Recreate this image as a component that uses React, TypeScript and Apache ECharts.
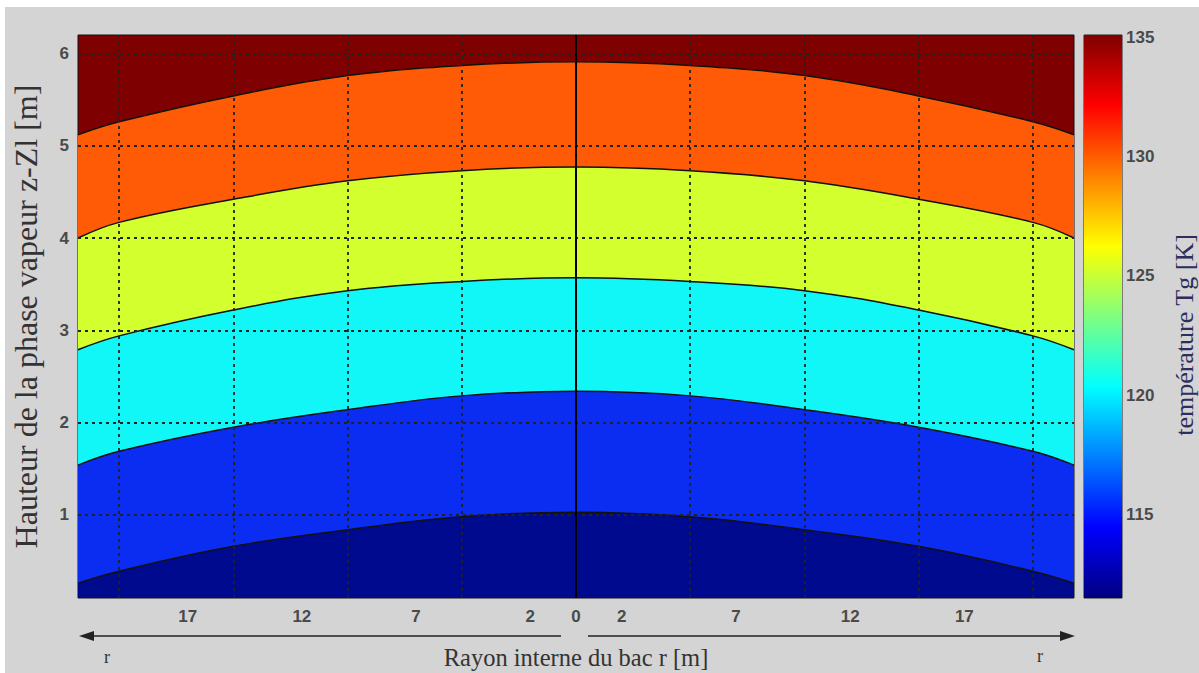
import React, { useEffect, useRef } from "react";
import * as echarts from "echarts";

// radial positions (m) where contour heights were read
const radii = [-21.8, -20, -15, -10, -5, 0, 5, 10, 15, 20, 21.8];
// contour boundary heights z-Zl (m), bottom to top
const boundary1 = [0.26, 0.39, 0.66, 0.84, 0.98, 1.03, 0.98, 0.84, 0.66, 0.39, 0.26];
const boundary2 = [1.54, 1.69, 1.95, 2.14, 2.29, 2.34, 2.29, 2.14, 1.95, 1.69, 1.54];
const boundary3 = [2.79, 2.94, 3.22, 3.43, 3.53, 3.57, 3.53, 3.43, 3.22, 2.94, 2.79];
const boundary4 = [4.0, 4.17, 4.42, 4.62, 4.73, 4.77, 4.73, 4.62, 4.42, 4.17, 4.0];
const boundary5 = [5.12, 5.26, 5.54, 5.76, 5.87, 5.91, 5.87, 5.76, 5.54, 5.26, 5.12];
// band colours, bottom to top (top band is the plot background)
const bandColors = ["#000A8F", "#0B2DF2", "#11F7F7", "#D2FF2D", "#FF5A05", "#7F0000"];

const xTickLabels = [-17, -12, -7, -2, 0, 2, 7, 12, 17];
const xGridValues = [-20, -15, -10, -5, 5, 10, 15, 20];
const yTickLabels = [1, 2, 3, 4, 5, 6];
const colorbarTicks = [115, 120, 125, 130, 135];
const colorbarMin = 111.5;
const colorbarMax = 135.1;

export default function App() {
  const ref = useRef<HTMLDivElement>(null);
  useEffect(() => {
    if (!ref.current) return;
    const chart = echarts.init(ref.current, null, { renderer: "svg" });
    const boundaries = [boundary5, boundary4, boundary3, boundary2, boundary1];
    const fills = [bandColors[4], bandColors[3], bandColors[2], bandColors[1], bandColors[0]];
    const dotted = { type: [3, 4] as any, color: "#222", width: 1.8 };
    const areaSeries: any[] = boundaries.map((b, i) => ({
      type: "line",
      xAxisIndex: 0,
      yAxisIndex: 0,
      data: radii.map((r, j) => [r, b[j]]),
      smooth: 0.4,
      symbol: "none",
      lineStyle: { color: "#111", width: 1.5 },
      areaStyle: { color: fills[i], opacity: 1, origin: "start" },
      z: 2,
      silent: true,
    }));
    areaSeries[areaSeries.length - 1].markLine = {
      silent: true,
      symbol: "none",
      z: 20,
      label: { show: false },
      data: [
        ...xGridValues.map((v) => ({ xAxis: v, lineStyle: dotted })),
        ...yTickLabels.map((v) => ({ yAxis: v, lineStyle: dotted })),
        { xAxis: 0, lineStyle: { type: "solid", color: "#000", width: 2 } },
      ],
    };
    const jet = new echarts.graphic.LinearGradient(0, 1, 0, 0, [
      { offset: 0, color: "#000080" },
      { offset: 0.125, color: "#0000FF" },
      { offset: 0.375, color: "#00FFFF" },
      { offset: 0.625, color: "#FFFF00" },
      { offset: 0.875, color: "#FF0000" },
      { offset: 1, color: "#800000" },
    ]);
    const tickFont = { fontFamily: "Liberation Sans", fontSize: 17, fontWeight: "bold", color: "#4a4a4a" };
    chart.setOption({
      animation: false,
      backgroundColor: "#D4D4D4",
      grid: [
        { left: 78, top: 35, width: 996, height: 563, outerBoundsMode: "none", containLabel: false, show: true, backgroundColor: bandColors[5], borderColor: "#111", borderWidth: 1 },
        { left: 1084, top: 35, width: 38, height: 563, outerBoundsMode: "none", containLabel: false, show: true, backgroundColor: "transparent", borderColor: "#222", borderWidth: 1 },
      ],
      xAxis: [
        {
          type: "value", gridIndex: 0, min: -21.8, max: 21.8,
          axisLine: { show: false }, axisTick: { show: false }, splitLine: { show: false },
          axisLabel: { ...tickFont, margin: 10, customValues: xTickLabels, formatter: (v: number) => String(Math.abs(v)) },
          name: "Rayon interne du bac r [m]", nameLocation: "middle", nameGap: 47,
          nameTextStyle: { fontFamily: "Liberation Serif", fontSize: 24.5, color: "#333" },
        },
        { type: "category", gridIndex: 1, data: ["Tg"], show: false },
      ],
      yAxis: [
        {
          type: "value", gridIndex: 0, min: 0.1, max: 6.2,
          axisLine: { show: false }, axisTick: { show: false }, splitLine: { show: false },
          axisLabel: { ...tickFont, margin: 9, customValues: yTickLabels },
          name: "Hauteur de la phase vapeur z-Zl [m]", nameLocation: "middle", nameGap: 36,
          nameTextStyle: { fontFamily: "Liberation Serif", fontSize: 32, color: "#333" },
        },
        {
          type: "value", gridIndex: 1, min: colorbarMin, max: colorbarMax, position: "right",
          axisLine: { show: false }, splitLine: { show: false },
          axisTick: { show: true, inside: true, length: 4, customValues: colorbarTicks, lineStyle: { color: "#222" } },
          axisLabel: { ...tickFont, margin: 4, customValues: colorbarTicks },
        },
      ],
      series: [
        ...areaSeries,
        { type: "bar", xAxisIndex: 1, yAxisIndex: 1, stack: "cb", data: [colorbarMin], barWidth: "100%", itemStyle: { color: "transparent" }, silent: true },
        { type: "bar", xAxisIndex: 1, yAxisIndex: 1, stack: "cb", data: [colorbarMax - colorbarMin], barWidth: "100%", itemStyle: { color: jet }, silent: true },
      ],
      graphic: [
        { type: "rect", shape: { x: 0, y: 0, width: 1199, height: 7 }, style: { fill: "#fff" }, silent: true },
        { type: "rect", shape: { x: 0, y: 0, width: 5, height: 673 }, style: { fill: "#fff" }, silent: true },
        { type: "line", shape: { x1: 561, y1: 636, x2: 90, y2: 636 }, style: { stroke: "#222", lineWidth: 1.5 }, silent: true },
        { type: "polygon", shape: { points: [[79, 636], [94, 631], [94, 641]] }, style: { fill: "#222" }, silent: true },
        { type: "line", shape: { x1: 588, y1: 636, x2: 1064, y2: 636 }, style: { stroke: "#222", lineWidth: 1.5 }, silent: true },
        { type: "polygon", shape: { points: [[1075, 636], [1060, 631], [1060, 641]] }, style: { fill: "#222" }, silent: true },
        { type: "text", x: 107, y: 657, style: { text: "r", font: "18px 'Liberation Serif'", fill: "#333", textAlign: "center", textVerticalAlign: "middle" }, silent: true },
        { type: "text", x: 1040, y: 656, style: { text: "r", font: "18px 'Liberation Serif'", fill: "#333", textAlign: "center", textVerticalAlign: "middle" }, silent: true },
        { type: "text", x: 1184, y: 335, rotation: Math.PI / 2, style: { text: "température Tg [K]", font: "26px 'Liberation Serif'", fill: "#2E2E5C", textAlign: "center", textVerticalAlign: "middle" }, silent: true },
      ],
    });
    return () => chart.dispose();
  }, []);
  return <div ref={ref} style={{ position: "fixed", left: 0, top: 0, width: 1199, height: 673 }} />;
}
